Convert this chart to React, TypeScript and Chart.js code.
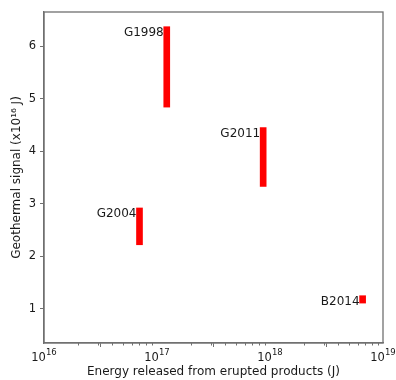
import React, { useEffect, useRef } from "react";
import { Chart, registerables } from "chart.js";

Chart.register(...registerables);

// ---- data ----
const eventNames = ["G1998", "G2004", "G2011", "B2014"];
const energyReleased = [1.22e17, 7.0e16, 8.7e17, 6.6e18]; // J
const signalLow = [4.84, 2.22, 3.33, 1.11]; // x10^16 J
const signalHigh = [6.37, 2.92, 4.45, 1.25]; // x10^16 J

const xMajorTicks = [1e16, 1e17, 1e18, 1e19];
const xTickBase = ["10", "10", "10", "10"];
const xTickExponent = ["16", "17", "18", "19"];
const xMinorMultipliers = [2, 3, 4, 5, 6, 7, 8, 9];
const yTicks = [1, 2, 3, 4, 5, 6];

const FONT = "'DejaVu Sans', sans-serif";
const TEXT = "#1a1a1a";
const FRAME = "#707070";

const framePlugin = {
  id: "frameAndLabels",
  afterDatasetsDraw(chart: any) {
    const { ctx, scales } = chart;
    const ys = scales.y;
    ctx.save();
    ctx.fillStyle = TEXT;
    ctx.font = `12px ${FONT}`;
    ctx.textAlign = "right";
    ctx.textBaseline = "top";
    const meta = chart.getDatasetMeta(0);
    meta.data.forEach((bar: any, i: number) => {
      const left = bar.x - bar.width / 2;
      const top = ys.getPixelForValue(signalHigh[i]);
      ctx.fillText(eventNames[i], left, top);
    });
    ctx.restore();
  },
  afterDraw(chart: any) {
    const { ctx, chartArea, scales } = chart;
    const xs = scales.x;
    ctx.save();
    // minor ticks on log x axis
    ctx.strokeStyle = FRAME;
    ctx.lineWidth = 1;
    xMajorTicks.slice(0, -1).forEach((m) => {
      xMinorMultipliers.forEach((k) => {
        const px = Math.round(xs.getPixelForValue(m * k)) + 0.5;
        ctx.beginPath();
        ctx.moveTo(px, chartArea.bottom);
        ctx.lineTo(px, chartArea.bottom + 2.5);
        ctx.stroke();
      });
    });
    // x tick labels as 10^n (base + raised exponent)
    ctx.fillStyle = TEXT;
    ctx.textBaseline = "alphabetic";
    ctx.textAlign = "left";
    const baseFont = `11.5px ${FONT}`;
    const expFont = `8.5px ${FONT}`;
    xMajorTicks.forEach((v, i) => {
      const px = xs.getPixelForValue(v);
      ctx.font = baseFont;
      const wb = ctx.measureText(xTickBase[i]).width;
      ctx.font = expFont;
      const we = ctx.measureText(xTickExponent[i]).width;
      const x0 = px - (wb + we) / 2;
      ctx.font = baseFont;
      ctx.fillText(xTickBase[i], x0, chartArea.bottom + 17.5);
      ctx.font = expFont;
      ctx.fillText(xTickExponent[i], x0 + wb, chartArea.bottom + 11.8);
    });
    // frame
    ctx.lineWidth = 1.3;
    ctx.strokeStyle = FRAME;
    ctx.strokeRect(
      chartArea.left,
      chartArea.top,
      chartArea.right - chartArea.left,
      chartArea.bottom - chartArea.top
    );
    ctx.restore();
  },
};

export default function App() {
  const canvasRef = useRef<HTMLCanvasElement | null>(null);

  useEffect(() => {
    if (!canvasRef.current) return;
    const chart = new Chart(canvasRef.current, {
      type: "bar",
      data: {
        datasets: [
          {
            data: eventNames.map((_, i) => ({
              x: energyReleased[i],
              y: [signalLow[i], signalHigh[i]],
            })) as any,
            backgroundColor: "#ff0000",
            borderWidth: 0,
            barThickness: 6,
            grouped: false,
          },
        ],
      },
      options: {
        animation: false,
        responsive: false,
        maintainAspectRatio: false,
        layout: { padding: { top: 12, right: 13, left: 0, bottom: 0 } },
        plugins: {
          legend: { display: false },
          tooltip: { enabled: false },
        },
        scales: {
          x: {
            type: "logarithmic",
            min: 1e16,
            max: 1e19,
            afterBuildTicks: (scale: any) => {
              scale.ticks = xMajorTicks.map((v) => ({ value: v }));
            },
            afterFit: (scale: any) => {
              scale.height = 37;
              scale.paddingLeft = 0;
              scale.paddingRight = 0;
            },
            ticks: {
              autoSkip: false,
              maxRotation: 0,
              padding: 3,
              color: TEXT,
              font: { family: FONT, size: 11 },
              callback: () => "",
            },
            grid: {
              drawOnChartArea: false,
              drawTicks: true,
              tickLength: 4,
              color: FRAME,
            },
            border: { color: FRAME, width: 1.3 },
            title: {
              display: true,
              text: "Energy released from erupted products (J)",
              color: TEXT,
              font: { family: FONT, size: 12, weight: "normal" },
              padding: { top: 0, bottom: 1 },
            },
          },
          y: {
            type: "linear",
            min: 0.35,
            max: 6.65,
            afterBuildTicks: (scale: any) => {
              scale.ticks = yTicks.map((v) => ({ value: v }));
            },
            afterFit: (scale: any) => {
              scale.width = 44;
            },
            ticks: {
              padding: 4,
              color: TEXT,
              font: { family: FONT, size: 11.5 },
              callback: (v: any) => String(v),
            },
            grid: {
              drawOnChartArea: false,
              drawTicks: true,
              tickLength: 4,
              color: FRAME,
            },
            border: { color: FRAME, width: 1.3 },
            title: {
              display: true,
              text: "Geothermal signal (x10¹⁶ J)",
              color: TEXT,
              font: { family: FONT, size: 12, weight: "normal" },
              padding: { top: 10, bottom: 0 },
            },
          },
        },
      },
      plugins: [framePlugin],
    });
    return () => chart.destroy();
  }, []);

  return (
    <div
      style={{
        position: "fixed",
        left: 0,
        top: 0,
        width: 396,
        height: 380,
        background: "#fff",
      }}
    >
      <canvas
        ref={canvasRef}
        width={396}
        height={380}
        style={{ width: 396, height: 380, display: "block" }}
      />
    </div>
  );
}
